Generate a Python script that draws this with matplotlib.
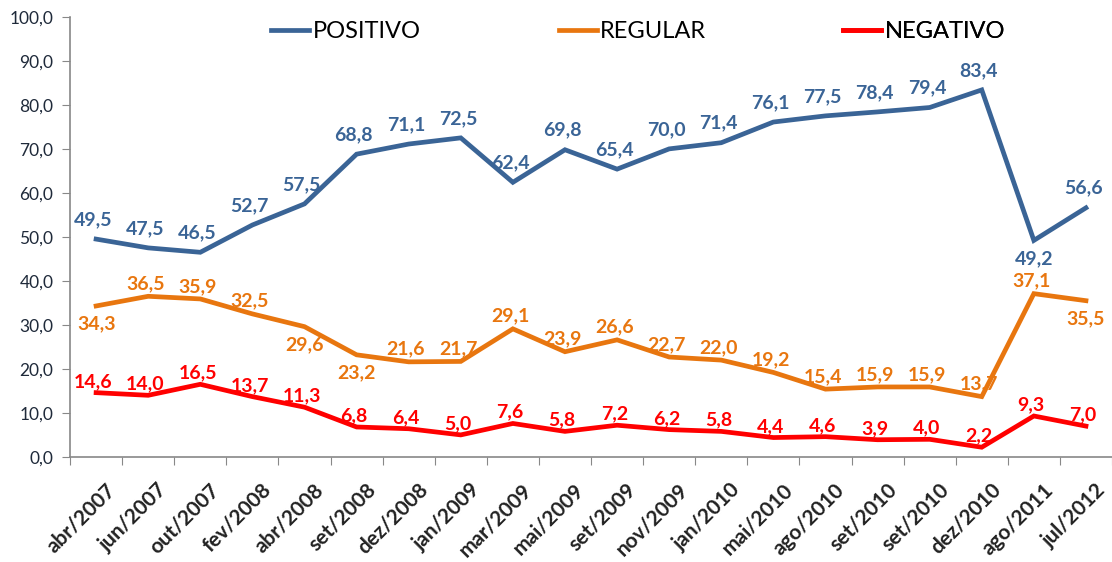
import numpy as np
import matplotlib.pyplot as plt
import matplotlib.transforms as mtransforms

plt.rcParams['font.family'] = ['Lato', 'DejaVu Sans']

meses = ['abr/2007', 'jun/2007', 'out/2007', 'fev/2008', 'abr/2008', 'set/2008',
         'dez/2008', 'jan/2009', 'mar/2009', 'mai/2009', 'set/2009', 'nov/2009',
         'jan/2010', 'mai/2010', 'ago/2010', 'set/2010', 'set/2010', 'dez/2010',
         'ago/2011', 'jul/2012']

positivo = [49.5, 47.5, 46.5, 52.7, 57.5, 68.8, 71.1, 72.5, 62.4, 69.8, 65.4, 70.0,
            71.4, 76.1, 77.5, 78.4, 79.4, 83.4, 49.2, 56.6]
regular = [34.3, 36.5, 35.9, 32.5, 29.6, 23.2, 21.6, 21.7, 29.1, 23.9, 26.6, 22.7,
           22.0, 19.2, 15.4, 15.9, 15.9, 13.7, 37.1, 35.5]
negativo = [14.6, 14.0, 16.5, 13.7, 11.3, 6.8, 6.4, 5.0, 7.6, 5.8, 7.2, 6.2,
            5.8, 4.4, 4.6, 3.9, 4.0, 2.2, 9.3, 7.0]

# rotulos abaixo do ponto
pos_abaixo = [False] * 18 + [True, False]
reg_abaixo = [True, False, False, False, True, True, False, False, False, False,
              False, False, False, False, False, False, False, False, False, True]

azul = '#3A6496'
laranja = '#E8760F'
vermelho = '#FF0000'

x = np.arange(len(meses))

fig = plt.figure(figsize=(11.12, 5.62), dpi=100)
ax = fig.add_axes([0.063, 0.187, 0.937, 0.783])

ax.plot(x, positivo, color=azul, lw=3.4, label='POSITIVO', solid_joinstyle='miter')
ax.plot(x, regular, color=laranja, lw=3.4, label='REGULAR', solid_joinstyle='miter')
ax.plot(x, negativo, color=vermelho, lw=3.4, label='NEGATIVO', solid_joinstyle='miter')

def fmt(v):
    return f'{v:.1f}'.replace('.', ',')

def rotulo(v, i, cor, abaixo, dy):
    if abaixo:
        ax.annotate(fmt(v), (i, v), xytext=(0, -7), textcoords='offset points',
                    ha='center', va='top', color=cor, fontsize=14, fontweight='bold')
    else:
        ax.annotate(fmt(v), (i, v), xytext=(-2, dy), textcoords='offset points',
                    ha='center', va='bottom', color=cor, fontsize=14, fontweight='bold')

for i in x:
    rotulo(positivo[i], i, azul, pos_abaixo[i], 8)
    rotulo(regular[i], i, laranja, reg_abaixo[i], 3)
    rotulo(negativo[i], i, vermelho, False, 2)

ax.set_xlim(-0.5, len(meses) - 0.5)
ax.set_ylim(0, 100)
ax.set_yticks(np.arange(0, 101, 10))
ax.set_yticklabels([fmt(v) for v in np.arange(0, 101, 10)], fontsize=12.5, color='#1F2A3A')

ax.set_xticks(np.arange(-0.5, len(meses), 1))
ax.set_xticklabels([])
ax.set_xticks(x, minor=True)
ax.set_xticklabels(meses, minor=True, rotation=45, ha='right', rotation_mode='anchor',
                   fontsize=15, fontweight='bold', color='#222222')
ax.tick_params(axis='x', which='minor', length=0, pad=12)
ax.tick_params(axis='x', which='major', length=6, color='#888888')
ax.tick_params(axis='y', length=6, color='#888888', pad=6)

# desloca os rotulos do eixo x um pouco para a direita
desloc = mtransforms.ScaledTranslation(9 / 100, -6 / 100, fig.dpi_scale_trans)
for lbl in ax.get_xticklabels(minor=True):
    lbl.set_transform(lbl.get_transform() + desloc)

for s in ['top', 'right']:
    ax.spines[s].set_visible(False)
for s in ['left', 'bottom']:
    ax.spines[s].set_color('#888888')
    ax.spines[s].set_linewidth(1.2)

# legenda: uma entrada por posicao
linhas = ax.get_lines()
for linha, x0 in zip(linhas, [0.193, 0.469, 0.742]):
    leg = ax.legend([linha], [linha.get_label()], loc='center left', bbox_to_anchor=(x0, 0.967),
                    frameon=False, fontsize=17, handlelength=1.6, handletextpad=0.15,
                    borderaxespad=0, borderpad=0)
    ax.add_artist(leg)

plt.savefig('out.png', dpi=100)
